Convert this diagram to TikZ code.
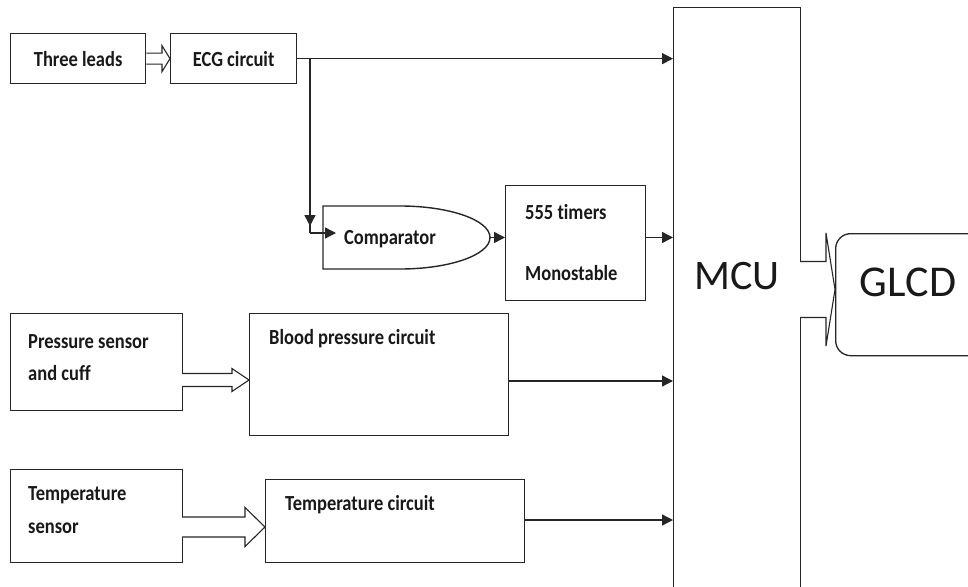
\documentclass[tikz,border=0pt]{standalone}
\usepackage{fontspec}
\newfontfamily\carl[Ligatures=NoCommon]{Carlito}
\newfontfamily\carlc[FakeStretch=0.86,Ligatures=NoCommon]{Carlito}
\usetikzlibrary{arrows.meta,calc}
\newcommand\oarr[5]{\draw[oa] let \p1=(#1), \p2=(#2) in (\x1,\y1+#4) -- (\x2-#3,\y1+#4) -- (\x2-#3,\y1+#5) -- (\x2,\y1) -- (\x2-#3,\y1-#5) -- (\x2-#3,\y1-#4) -- (\x1,\y1-#4);}
\begin{document}
\begin{tikzpicture}[x=1pt,y=-1pt,
  blk/.style={draw=black!85, line width=1.3pt, inner sep=0pt, anchor=north west, fill=white},
  lbl/.style={font=\carlc\bfseries\fontsize{21.5}{25}\selectfont, inner sep=0pt, text=black!90},
  big/.style={font=\carl\fontsize{42}{48}\selectfont, inner sep=0pt, text=black!90},
  ln/.style={draw=black!85, line width=1.4pt},
  ar/.style={ln, -{Triangle[length=11pt,width=11pt]}},
  oa/.style={draw=black!85, line width=1.1pt, fill=white}]
\useasboundingbox (0,0) rectangle (968,586);
\clip (0,0) rectangle (968,586);
% boxes
\node[blk, minimum width=135pt, minimum height=50pt] (leads) at (10,33) {};
\node[lbl] at (leads.center) {Three leads};
\node[blk, minimum width=126pt, minimum height=50pt] (ecg) at (170,33) {};
\node[lbl] at (ecg.center) {ECG circuit};
\node[blk, minimum width=140pt, minimum height=115pt] (timer) at (505,185) {};
\node[lbl, anchor=west] (t1) at (525,212) {555 timers};
\node[lbl, anchor=west] (t2) at (525,273) {Monostable};
\node[blk, minimum width=127pt, minimum height=600pt] (mcu) at (673,7) {};
\node[big] (mcut) at (737,276) {MCU};
\node[blk, minimum width=150pt, minimum height=122pt, rounded corners=15pt] (glcd) at (835,233) {};
\node[big, font=\carl\fontsize{44}{50}\selectfont] (glcdt) at (908,282) {GLCD};
\node[blk, minimum width=172pt, minimum height=97pt] (press) at (10,313) {};
\node[lbl, anchor=west] (p1) at (28,342) {Pressure sensor};
\node[lbl, anchor=west] (p2) at (28,373) {and cuff};
\node[blk, minimum width=259pt, minimum height=122pt] (bp) at (249,313) {};
\node[lbl, anchor=west] (bpt) at (269,339) {Blood pressure circuit};
\node[blk, minimum width=172pt, minimum height=93pt] (temps) at (10,469) {};
\node[lbl, anchor=west] (s1) at (28,495) {Temperature};
\node[lbl, anchor=west] (s2) at (28,528) {sensor};
\node[blk, minimum width=259pt, minimum height=83pt] (tc) at (265,479) {};
\node[lbl, anchor=west] (tct) at (285,505) {Temperature circuit};
% comparator
\draw[ln, fill=white] (400,206) -- (323,206) -- (323,269) -- (400,269)
  arc[start angle=90, end angle=-90, x radius=90, y radius=31.5];
\node[lbl] (comp) at (390,239) {Comparator};
\coordinate (ctip) at (490,237.5);
% coordinates
\coordinate (br) at (310,58);
\coordinate (bd) at (310,226);
\coordinate (bend) at (310,233);
\coordinate (cin) at (336,233);
\coordinate (pa) at (182,380);
\coordinate (ta) at (182,527);
\coordinate (ga) at (800,289.5);
% connectors
\draw[ar] (ecg.east) -- (ecg.east -| mcu.west);
\draw[ln] (br) -- (bend);
\draw[ar] (br) -- (bd);
\draw[ar] (bend) -- (cin);
\draw[ar] (ctip) -- (ctip -| timer.west);
\draw[ar] (timer.east |- ctip) -- (ctip -| mcu.west);
\draw[ar] (bp.east |- 0,381) -- (mcu.west |- 0,381);
\draw[ar] (tc.east |- 0,520) -- (mcu.west |- 0,520);
% open arrows
\oarr{leads.east}{ecg.west}{8pt}{5.5pt}{13pt}
\oarr{pa}{bp.west}{17pt}{6.5pt}{11.5pt}
\oarr{ta}{tc.west}{20pt}{10pt}{19.5pt}
\oarr{ga}{glcd.west}{9pt}{28pt}{56.5pt}
\end{tikzpicture}
\end{document}
